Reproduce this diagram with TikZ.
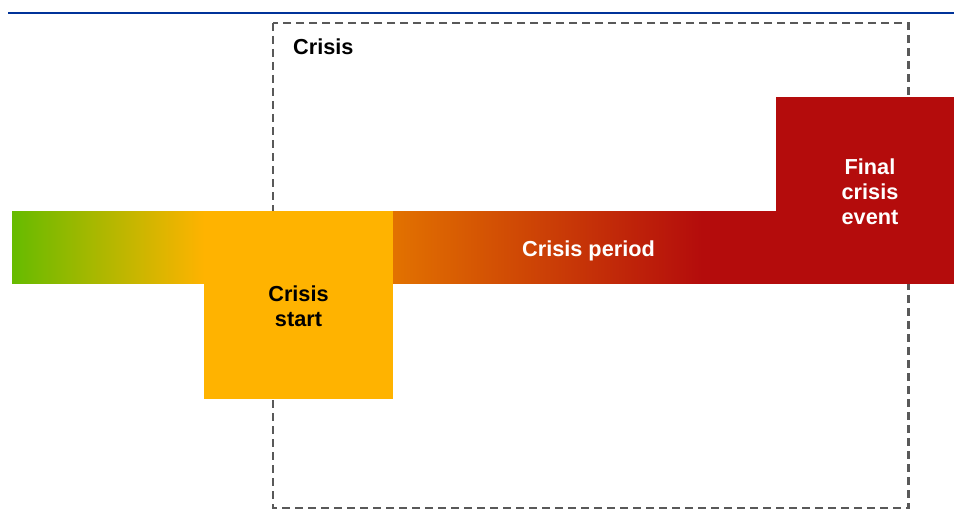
\documentclass[tikz,border=0pt]{standalone}
\usepackage{fontspec}
\setmainfont{Liberation Sans}
\definecolor{topblue}{RGB}{0,51,153}
\definecolor{dashgray}{RGB}{89,89,89}
\definecolor{cgreen}{RGB}{102,187,0}
\definecolor{cyellow}{RGB}{255,179,0}
\definecolor{corange}{RGB}{226,114,0}
\definecolor{cred}{RGB}{180,12,12}
\tikzset{
  lbl/.style={font=\bfseries\fontsize{21.7}{25}\selectfont, align=center, inner sep=0pt},
  crisisbox/.style={draw=dashgray, line width=2.4pt, dash pattern=on 8pt off 5pt},
}
\begin{document}
\begin{tikzpicture}[x=1pt,y=-1pt]
\useasboundingbox (0,0) rectangle (954,511);
% top rule
\coordinate (ruleL) at (8,13);
\coordinate (ruleR) at (954,13);
\draw[topblue, line width=2.8pt] (ruleL) -- (ruleR);
% dashed crisis frame
\coordinate (frameA) at (273,23);
\coordinate (frameB) at (908.5,508);
\draw[crisisbox] (frameA) rectangle (frameB);
\node[lbl, anchor=base west, text=black] (crisis) at (293,55) {Crisis};
% green to yellow bar
\shade[left color=cgreen, right color=cyellow] (12,211) rectangle (204,283.5);
% crisis start square
\fill[cyellow] (204,211) rectangle (393,399);
\node[lbl, text=black] (start) at (298.5,306) {Crisis\\start};
% crisis period bar
\fill[cred] (700,211) rectangle (954,284);
\shade[left color=corange, right color=cred] (393,211) rectangle (702,283.5);
\node[lbl, text=white, anchor=base] (period) at (588.5,256) {Crisis period};
% final crisis event
\fill[cred] (776,97) rectangle (954,284);
\node[lbl, text=white] (final) at (870,191.5) {Final\\crisis\\event};
\end{tikzpicture}
\end{document}
